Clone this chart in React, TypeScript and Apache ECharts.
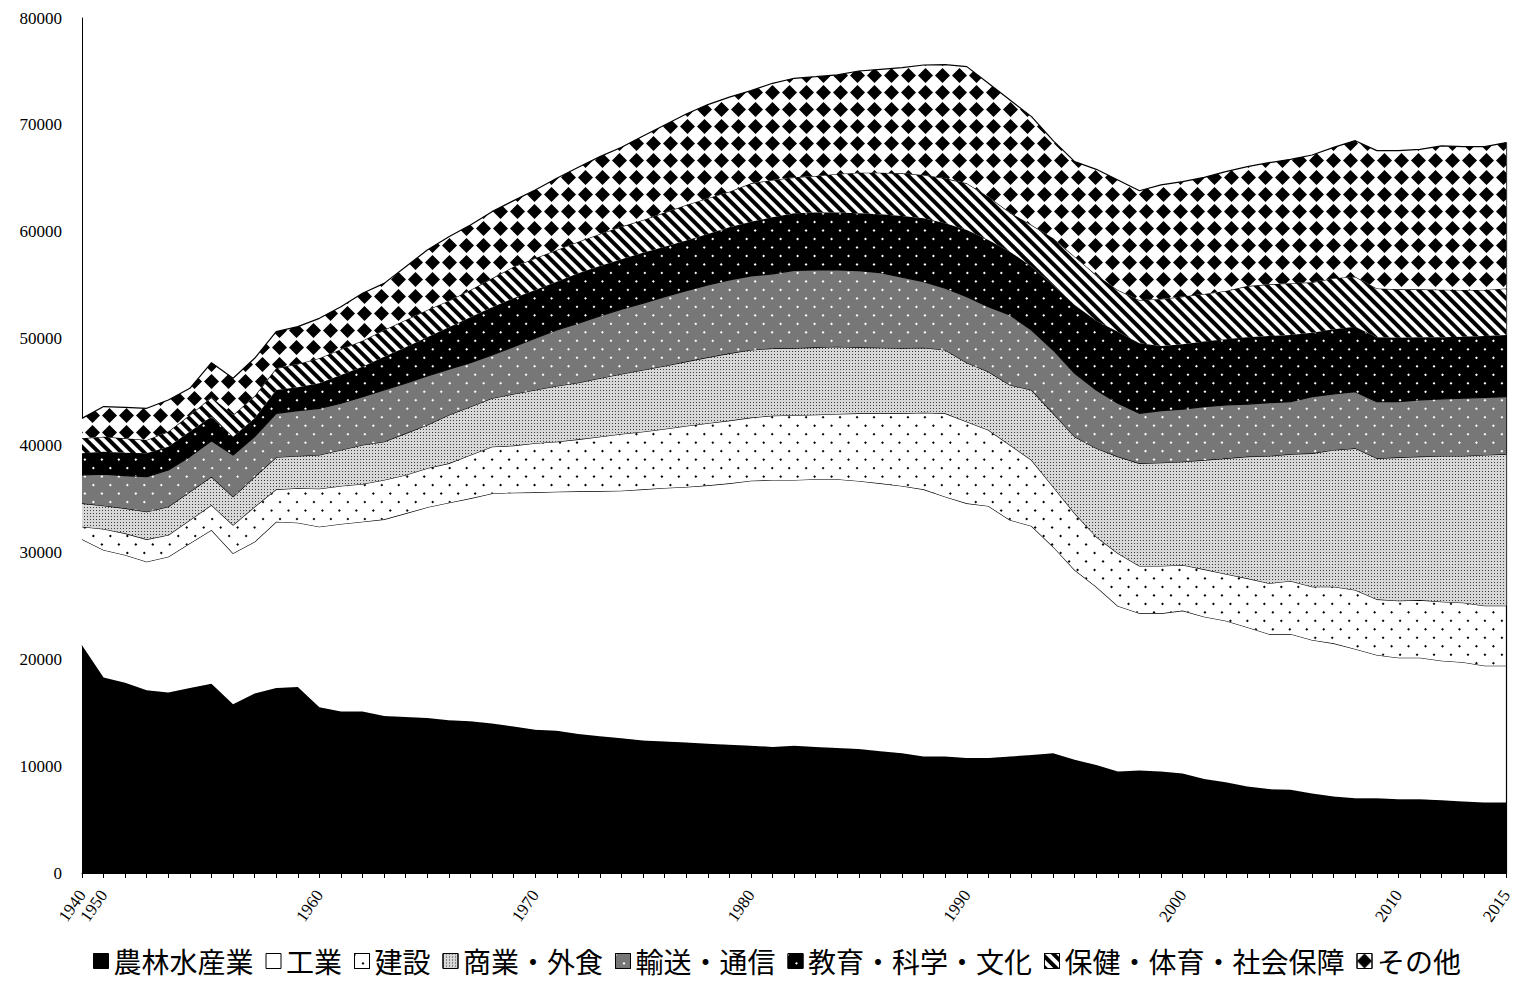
import React, { useEffect, useRef } from 'react';
import * as echarts from 'echarts';

const years = ['1940','1950','1951','1952','1953','1954','1955','1956','1957','1958','1959','1960','1961','1962','1963','1964','1965','1966','1967','1968','1969','1970','1971','1972','1973','1974','1975','1976','1977','1978','1979','1980','1981','1982','1983','1984','1985','1986','1987','1988','1989','1990','1991','1992','1993','1994','1995','1996','1997','1998','1999','2000','2001','2002','2003','2004','2005','2006','2007','2008','2009','2010','2011','2012','2013','2014','2015'];
const labelYears = ['1940','1950','1960','1970','1980','1990','2000','2010','2015'];
const yTicks = [0, 10000, 20000, 30000, 40000, 50000, 60000, 70000, 80000];

const agriculture = [21300,18300,17800,17100,16900,17300,17700,15800,16800,17300,17400,15500,15100,15100,14700,14600,14500,14300,14200,14000,13700,13400,13300,13000,12800,12600,12400,12300,12200,12100,12000,11900,11800,11900,11800,11700,11600,11400,11200,10900,10900,10750,10750,10900,11050,11200,10600,10100,9500,9600,9500,9300,8800,8500,8100,7850,7800,7450,7150,7000,7000,6900,6900,6800,6700,6600,6600];
const industry = [9920,11920,11960,12030,12700,13550,14390,14110,14200,15570,15380,16900,17560,17770,18390,19050,19720,20350,20860,21520,21890,22220,22380,22710,22940,23170,23500,23730,23920,24170,24460,24810,24970,24870,25040,25140,25080,25060,25010,25000,24310,23840,23590,22130,21420,19330,17750,16690,15480,14700,14800,15250,15180,15110,14890,14510,14560,14350,14340,13960,13400,13250,13250,13070,13020,12800,12800];
const construction = [1180,1970,2020,2090,2030,2180,2340,2650,3270,3030,3220,3560,3550,3530,3680,3590,3650,3680,4050,4370,4400,4590,4680,4870,5090,5310,5390,5520,5710,5810,5870,5900,6020,6060,6040,6110,6330,6550,6800,7170,7800,7640,7110,7020,6170,5620,5300,4680,4930,4430,4430,4270,4430,4370,4580,4750,4960,4990,5300,5520,5210,5330,5390,5520,5570,5610,5610];
const commerce = [2190,2180,2340,2590,2640,2650,2650,2650,2810,3000,3020,3150,3370,3650,3590,3900,4050,4530,4520,4530,4830,4980,5210,5300,5460,5610,5780,5890,6020,6170,6290,6330,6300,6290,6310,6300,6180,6140,6110,6080,5930,5520,5460,5610,6550,6860,7180,8270,9050,9600,9660,9670,10230,10820,11390,11910,11880,12480,12790,13260,13190,13410,13420,13630,13730,14100,14190];
const transport = [2650,2960,3060,3270,3440,3280,3370,3900,3750,4110,4240,4370,4370,4520,4830,4680,4580,4270,4120,4050,4430,4840,5240,5560,5830,6060,6240,6490,6640,6770,6870,6930,6970,7270,7230,7170,7170,7020,6620,6180,5770,6180,6080,6550,5620,5930,5920,5450,4990,4680,4870,4900,4990,4990,4920,4990,4900,5300,5240,5300,5300,5210,5300,5330,5400,5400,5370];
const education = [2030,2090,2150,2190,2180,2340,2250,1720,1710,2190,2180,2340,2650,2810,3120,3370,3620,3930,4250,4460,4520,4520,4520,4670,4680,4670,4730,4670,4680,4770,4930,5070,5290,5340,5370,5370,5370,5470,5740,5930,6080,6240,6240,5930,5930,6080,6400,6490,6700,6550,6050,6080,6090,6150,6250,6240,6240,5990,6050,6080,6030,5990,5870,5780,5760,5740,5770];
const health = [1400,1410,1340,1250,1410,1560,1810,2030,2090,2020,2190,2340,2400,2430,2500,2550,2560,2490,2550,2710,2960,2970,2960,2960,2990,3060,3060,3190,3340,3340,3330,3590,3490,3360,3430,3620,3800,3890,3990,4050,4210,4360,4050,3650,3890,4370,4520,4270,3900,4040,4400,4460,4460,4520,4790,4830,4840,4710,4780,4680,4570,4520,4480,4450,4370,4300,4360];
const other = [1870,2810,2900,2960,2960,2490,3240,3430,3530,3440,3490,3740,3990,4430,4360,4990,5610,5990,6080,6240,6180,6390,6710,6960,7240,7420,7860,8200,8510,8770,8850,8670,9050,9270,9290,9260,9510,9670,9880,10290,10630,10920,10610,10540,10140,9130,8890,9890,10300,10240,10670,10760,10910,11160,11170,11380,11600,11910,12250,12720,12890,12980,13100,13450,13410,13410,13640];

const seriesNames = ['農林水産業', '工業', '建設', '商業・外食', '輸送・通信', '教育・科学・文化', '保健・体育・社会保障', 'その他'];
const seriesData = [agriculture, industry, construction, commerce, transport, education, health, other];

const dots = (color: string) => ({
  symbol: 'rect', symbolSize: 1, dashArrayX: [2, 10], dashArrayY: [2, 10],
  rotation: Math.PI / 4, color,
});

const styles: any[] = [
  { fill: '#000000', decal: null },
  { fill: '#ffffff', decal: null },
  { fill: '#ffffff', decal: dots('#000000') },
  { fill: '#d8d8d8', decal: { symbol: 'rect', symbolSize: 1, dashArrayX: [1, 2], dashArrayY: [1, 2], rotation: 0, color: '#3a3a3a' } },
  { fill: '#777777', decal: dots('#ffffff') },
  { fill: '#000000', decal: dots('#ffffff') },
  { fill: '#ffffff', decal: { symbol: 'rect', symbolSize: 1, dashArrayX: [1, 0], dashArrayY: [4, 4], rotation: Math.PI / 4, color: '#000000' } },
  { fill: '#ffffff', decal: { symbol: 'diamond', symbolSize: 1, dashArrayX: [15, 2], dashArrayY: [15, 2], rotation: 0, color: '#000000' } },
];

export default function App() {
  const ref = useRef<HTMLDivElement>(null);
  useEffect(() => {
    const chart = echarts.init(ref.current as HTMLDivElement, null, { renderer: 'svg' });
    const last = years.length - 1;
    const total = seriesData.reduce((s, arr) => s + arr[last], 0);
    const series = seriesData.map((data, k) => {
      const st = styles[k];
      const itemStyle: any = { color: st.fill, borderColor: '#000', borderWidth: 1 };
      if (st.decal) itemStyle.decal = st.decal;
      const s: any = {
        name: seriesNames[k],
        type: 'line',
        stack: 'total',
        data,
        symbol: 'none',
        showSymbol: false,
        silent: true,
        emphasis: { disabled: true },
        lineStyle: { color: '#000', width: 1.2 },
        areaStyle: { color: st.fill, opacity: 1 },
        itemStyle,
        z: 2 + k,
      };
      if (k === seriesData.length - 1) {
        s.markLine = {
          silent: true,
          symbol: 'none',
          label: { show: false },
          lineStyle: { color: '#000', width: 1.2, type: 'solid' },
          data: [[{ coord: [years[last], 0] }, { coord: [years[last], total] }]],
        };
      }
      return s;
    });
    chart.setOption({
      animation: false,
      backgroundColor: '#ffffff',
      grid: { left: 82, right: 5, top: 18, bottom: 111, containLabel: false },
      legend: {
        data: seriesNames,
        left: 88,
        top: 940,
        icon: 'rect',
        itemWidth: 15,
        itemHeight: 15,
        itemGap: 12,
        selectedMode: false,
        itemStyle: { borderColor: '#000', borderWidth: 1 },
        textStyle: { fontFamily: '"Noto Sans CJK JP"', fontSize: 28, lineHeight: 32, color: '#000' },
      },
      xAxis: {
        type: 'category',
        data: years,
        boundaryGap: false,
        axisLine: { show: true, lineStyle: { color: '#000', width: 1 } },
        axisTick: { show: true, interval: 0, length: 5, lineStyle: { color: '#000' } },
        axisLabel: {
          interval: (idx: number, val: string) => labelYears.includes(val),
          rotate: 55,
          margin: 19,
          fontFamily: '"Liberation Serif", "Times New Roman", serif',
          fontSize: 17,
          color: '#000',
          hideOverlap: false,
        },
        splitLine: { show: false },
      },
      yAxis: {
        type: 'value',
        min: yTicks[0],
        max: yTicks[yTicks.length - 1],
        interval: 10000,
        axisLine: { show: true, lineStyle: { color: '#000', width: 1 } },
        axisTick: { show: false },
        axisLabel: {
          margin: 20,
          formatter: (v: number) => String(v),
          fontFamily: '"Liberation Serif", "Times New Roman", serif',
          fontSize: 17,
          color: '#000',
        },
        splitLine: { show: false },
      },
      series,
    });
    return () => chart.dispose();
  }, []);
  return (
    <div
      ref={ref}
      style={{ position: 'absolute', left: 0, top: 0, width: 1515, height: 984, background: '#fff' }}
    />
  );
}
